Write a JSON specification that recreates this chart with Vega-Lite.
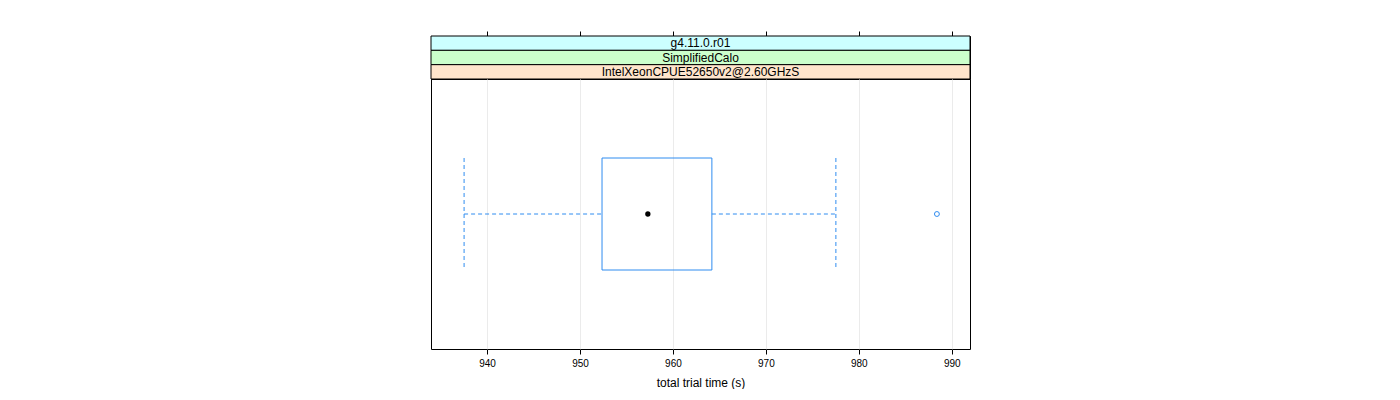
{
  "$schema": "https://vega.github.io/schema/vega-lite/v6.json",
  "background": "white",
  "padding": {"left": 430, "top": 30, "right": 0, "bottom": 0},
  "autosize": {"type": "pad"},
  "bounds": "flush",
  "spacing": 0,
  "config": {
    "view": {"stroke": "black", "strokeWidth": 1},
    "font": "Liberation Sans",
    "axis": {"labelFont": "Liberation Sans", "titleFont": "Liberation Sans", "labelColor": "black", "titleColor": "black"}
  },
  "vconcat": [
    {
      "width": 539,
      "height": 43,
      "data": {"values": [
        {"level": "g4.11.0.r01", "variable": "version"},
        {"level": "SimplifiedCalo", "variable": "test"},
        {"level": "IntelXeonCPUE52650v2@2.60GHzS", "variable": "cpu"}
      ]},
      "layer": [
        {
          "mark": {"type": "rect", "stroke": "black", "strokeWidth": 1},
          "encoding": {
            "y": {"field": "level", "type": "nominal", "sort": ["g4.11.0.r01", "SimplifiedCalo", "IntelXeonCPUE52650v2@2.60GHzS"], "scale": {"paddingInner": 0, "paddingOuter": 0}, "axis": null},
            "x": {"datum": 933.97, "type": "quantitative", "scale": {"domain": [933.97, 991.96], "nice": false, "zero": false},
                  "axis": {"orient": "top", "labels": false, "domain": false, "grid": false, "ticks": true, "tickSize": 5, "tickColor": "black", "title": null, "values": [940, 950, 960, 970, 980, 990]}},
            "x2": {"datum": 991.96},
            "fill": {"field": "level", "type": "nominal", "scale": {"domain": ["g4.11.0.r01", "SimplifiedCalo", "IntelXeonCPUE52650v2@2.60GHzS"], "range": ["#ccffff", "#ccffcc", "#ffe5cc"]}, "legend": null}
          }
        },
        {
          "mark": {"type": "text", "x": {"expr": "width/2"}, "fontSize": 12, "font": "Liberation Sans", "color": "black"},
          "encoding": {
            "y": {"field": "level", "type": "nominal", "sort": ["g4.11.0.r01", "SimplifiedCalo", "IntelXeonCPUE52650v2@2.60GHzS"]},
            "text": {"field": "level"}
          }
        }
      ]
    },
    {
      "width": 539,
      "height": 270,
      "data": {"values": [
        {"group": "IntelXeonCPUE52650v2@2.60GHzS", "lower": 937.53, "q1": 952.37, "median": 957.3, "q3": 964.19, "upper": 977.53, "outlier": 988.4}
      ]},
      "encoding": {
        "y": {"field": "group", "type": "nominal", "axis": null}
      },
      "layer": [
        {
          "mark": {"type": "rule", "color": "#2f8cf0", "strokeDash": [4, 3], "strokeWidth": 1},
          "encoding": {
            "x": {"field": "lower", "type": "quantitative", "scale": {"domain": [933.97, 991.96], "nice": false, "zero": false},
                  "axis": {"orient": "bottom", "values": [940, 950, 960, 970, 980, 990], "domain": false, "tickSize": 5, "tickColor": "black", "labelFontSize": 10, "labelPadding": 4, "grid": true, "gridColor": "#ebebeb", "gridWidth": 1, "title": "total trial time (s)", "titleFontSize": 12, "titleFontWeight": "normal", "titlePadding": 9}},
            "x2": {"field": "q1"}
          }
        },
        {
          "mark": {"type": "rule", "color": "#2f8cf0", "strokeDash": [4, 3], "strokeWidth": 1},
          "encoding": {
            "x": {"field": "q3", "type": "quantitative"},
            "x2": {"field": "upper"}
          }
        },
        {
          "mark": {"type": "rule", "color": "#2f8cf0", "strokeDash": [4, 3], "strokeWidth": 1, "yOffset": -56, "y2Offset": 56},
          "encoding": {
            "x": {"field": "lower", "type": "quantitative"},
            "y2": {"field": "group"}
          }
        },
        {
          "mark": {"type": "rule", "color": "#2f8cf0", "strokeDash": [4, 3], "strokeWidth": 1, "yOffset": -56, "y2Offset": 56},
          "encoding": {
            "x": {"field": "upper", "type": "quantitative"},
            "y2": {"field": "group"}
          }
        },
        {
          "mark": {"type": "bar", "fill": "white", "fillOpacity": 0, "stroke": "#2f8cf0", "strokeWidth": 1, "size": 112},
          "encoding": {
            "x": {"field": "q1", "type": "quantitative"},
            "x2": {"field": "q3"}
          }
        },
        {
          "mark": {"type": "point", "filled": true, "color": "black", "size": 28, "opacity": 1},
          "encoding": {
            "x": {"field": "median", "type": "quantitative"}
          }
        },
        {
          "mark": {"type": "point", "filled": false, "color": "#2f8cf0", "size": 24, "strokeWidth": 1, "opacity": 1},
          "encoding": {
            "x": {"field": "outlier", "type": "quantitative"}
          }
        }
      ]
    }
  ]
}
